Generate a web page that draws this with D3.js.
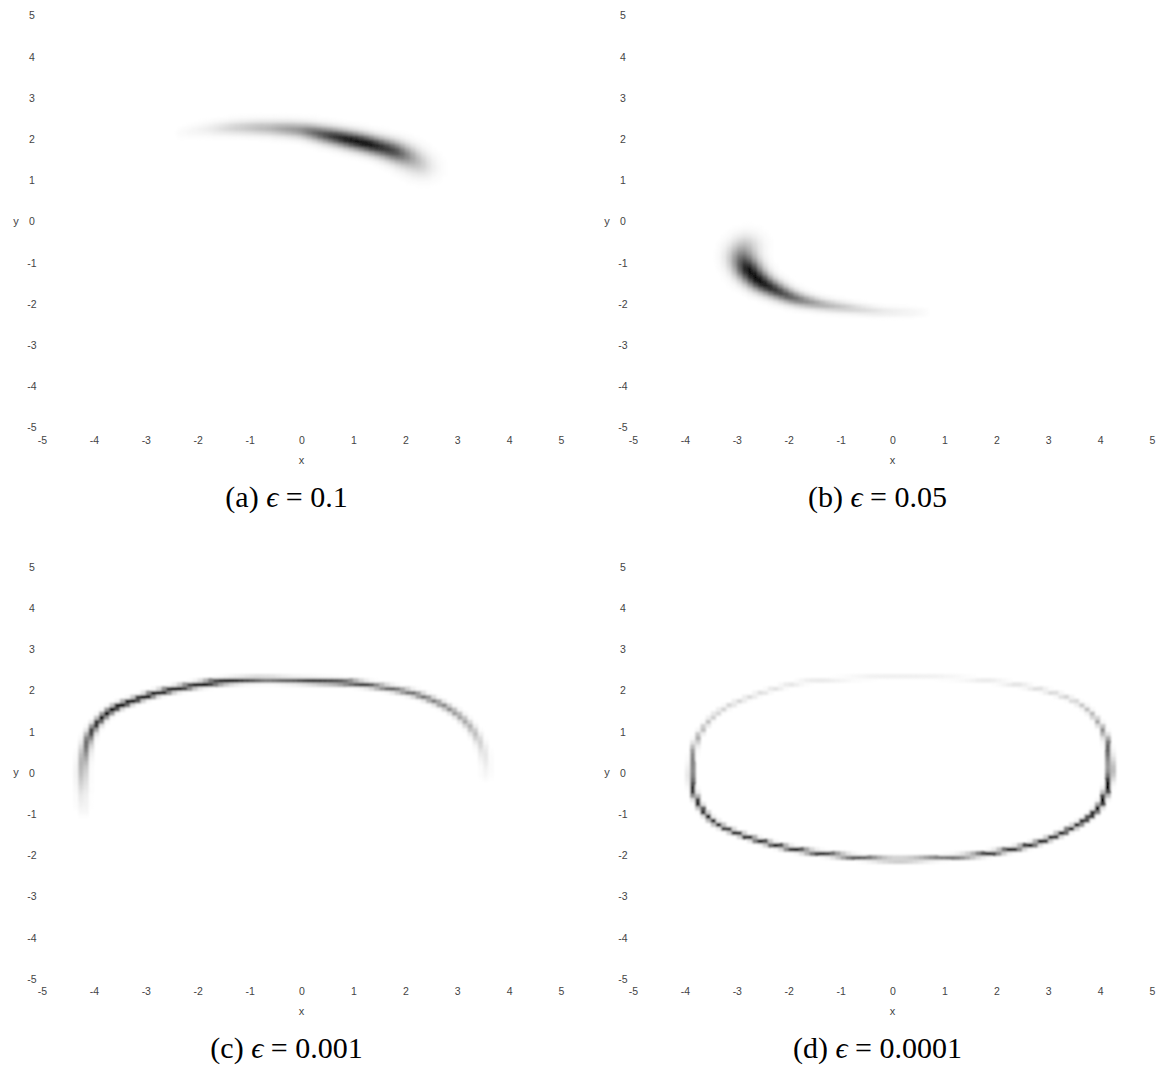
<!DOCTYPE html>
<html>
<head>
<meta charset="utf-8">
<script src="https://cdn.jsdelivr.net/npm/d3@7"></script>
<style>
  body { margin: 0; background: #fff; }
  svg { display: block; }
  .tick text { font-family: "Liberation Sans", Arial, sans-serif; font-size: 10.5px; fill: #444; }
  .axis-title { font-family: "Liberation Sans", Arial, sans-serif; font-size: 11px; fill: #444; }
  .caption { font-family: "Liberation Serif", "DejaVu Serif", serif; font-size: 30px; fill: #000; }
</style>
</head>
<body>
<svg id="chart" width="1162" height="1068"></svg>
<script>
// ---- tick values and panel labels
const tickValues = [-5, -4, -3, -2, -1, 0, 1, 2, 3, 4, 5];
const panelLetters = ['a', 'b', 'c', 'd'];
const epsilons = ['0.1', '0.05', '0.001', '0.0001'];

// ---- density ridges: [x, y, darkness, spread]
const ridgeA = [
  [-2.4, 2.15, 0.0, 0.09], [-1.8, 2.24, 0.07, 0.1], [-1.2, 2.28, 0.2, 0.11],
  [-0.6, 2.27, 0.3, 0.115], [0.0, 2.22, 0.45, 0.12], [0.5, 2.1, 0.75, 0.13],
  [1.0, 1.97, 1.0, 0.135], [1.4, 1.85, 0.95, 0.14], [1.8, 1.7, 0.72, 0.16],
  [2.1, 1.52, 0.35, 0.18], [2.35, 1.3, 0.08, 0.19]
];
const ridgeB = [
  [-2.8, -0.5, 0.06, 0.19], [-2.88, -0.82, 0.5, 0.19], [-2.78, -1.15, 0.95, 0.17],
  [-2.57, -1.43, 1.0, 0.15], [-2.28, -1.64, 0.85, 0.13], [-1.9, -1.85, 0.6, 0.11],
  [-1.4, -2.0, 0.35, 0.09], [-0.8, -2.1, 0.2, 0.08], [-0.2, -2.18, 0.1, 0.07],
  [0.6, -2.2, 0.02, 0.07]
];
const ridgeC = [
  [-4.2, -0.95, 0.03, 0.07], [-4.22, -0.5, 0.1, 0.07], [-4.2, 0.3, 0.4, 0.065],
  [-4.05, 1.0, 0.75, 0.055], [-3.7, 1.5, 1.15, 0.05], [-3.2, 1.78, 1.2, 0.045],
  [-2.7, 1.97, 1.15, 0.045], [-2.2, 2.1, 1.05, 0.045], [-1.7, 2.2, 1.2, 0.045],
  [-1.2, 2.25, 0.85, 0.045], [-0.7, 2.27, 0.6, 0.045], [-0.2, 2.25, 0.65, 0.045],
  [0.3, 2.23, 0.9, 0.045], [0.9, 2.2, 0.95, 0.045], [1.5, 2.1, 0.65, 0.045],
  [2.2, 1.92, 0.58, 0.05], [2.8, 1.6, 0.48, 0.05], [3.2, 1.2, 0.34, 0.055],
  [3.45, 0.7, 0.17, 0.06], [3.55, 0.2, 0.06, 0.065], [3.55, -0.1, 0.02, 0.07]
];
// closed loop: first and last anchor are the same point
const ridgeD = [
  [0.0, 2.34, 0.06, 0.035], [1.3, 2.3, 0.06, 0.035], [2.6, 2.1, 0.12, 0.035],
  [3.55, 1.72, 0.2, 0.035], [4.02, 1.13, 0.4, 0.035], [4.18, 0.4, 0.75, 0.035],
  [4.15, -0.3, 1.15, 0.035], [3.85, -1.0, 1.25, 0.035], [3.0, -1.6, 1.05, 0.035],
  [2.0, -1.92, 0.9, 0.035], [1.0, -2.05, 0.55, 0.035], [0.0, -2.1, 0.5, 0.035],
  [-1.0, -2.0, 0.8, 0.035], [-2.0, -1.82, 0.95, 0.035], [-2.9, -1.5, 1.0, 0.035],
  [-3.5, -1.12, 1.0, 0.035], [-3.82, -0.5, 0.9, 0.035], [-3.87, 0.2, 0.55, 0.035],
  [-3.72, 0.95, 0.3, 0.035], [-3.2, 1.6, 0.18, 0.035], [-2.0, 2.14, 0.1, 0.035],
  [-1.0, 2.28, 0.07, 0.035], [0.0, 2.34, 0.06, 0.035]
];
const ridges = [ridgeA, ridgeB, ridgeC, ridgeD];
const closedRidge = [false, false, false, true];
const blurs = ['1.8 1.5', '1.8 1.5', '1.3 1.1', '1.1 0.9'];

// ---- layout
const panelW = 519, panelH = 412;
const origins = [[42, 15.5], [633, 15.5], [42, 567], [633, 567]];
const gridN = 100;

const svg = d3.select('#chart');
const defs = svg.append('defs');
blurs.forEach((b, p) => {
    defs.append('filter')
        .attr('id', `smooth${p}`)
        .append('feGaussianBlur')
        .attr('stdDeviation', b);
});

const color = d3.scaleLinear().domain([0, 1]).range(['#ffffff', '#000000']).clamp(true);

// smooth the anchor polyline (Catmull-Rom), carrying darkness/spread along
function smoothRidge(ridge, closed) {
    const pts = closed ? ridge.slice(0, -1) : ridge;
    const n = pts.length;
    const at = i => closed ? pts[(i + n) % n] : pts[Math.max(0, Math.min(n - 1, i))];
    const out = [];
    const segs = closed ? n : n - 1;
    for (let k = 0; k < segs; k++) {
        const p0 = at(k - 1), p1 = at(k), p2 = at(k + 1), p3 = at(k + 2);
        for (let s = 0; s < 16; s++) {
            const t = s / 16, t2 = t * t, t3 = t2 * t;
            const cr = c => 0.5 * (2 * p1[c] + (-p0[c] + p2[c]) * t
                + (2 * p0[c] - 5 * p1[c] + 4 * p2[c] - p3[c]) * t2
                + (-p0[c] + 3 * p1[c] - 3 * p2[c] + p3[c]) * t3);
            out.push([cr(0), cr(1), p1[2] + t * (p2[2] - p1[2]), p1[3] + t * (p2[3] - p1[3])]);
        }
    }
    out.push(closed ? out[0] : pts[n - 1]);
    return out;
}

// value of a ridge at a point: strongest contribution of any segment
function ridgeValue(px, py, ridge) {
    let best = 0;
    for (let k = 0; k < ridge.length - 1; k++) {
        const [x0, y0, d0, s0] = ridge[k];
        const [x1, y1, d1, s1] = ridge[k + 1];
        const dx = x1 - x0, dy = y1 - y0, L2 = dx * dx + dy * dy;
        let t = L2 ? ((px - x0) * dx + (py - y0) * dy) / L2 : 0;
        t = Math.max(0, Math.min(1, t));
        const qx = x0 + t * dx, qy = y0 + t * dy;
        const dark = d0 + t * (d1 - d0), s = s0 + t * (s1 - s0);
        const dist2 = (px - qx) ** 2 + (py - qy) ** 2;
        const v = dark * Math.exp(-dist2 / (2 * s * s));
        if (v > best) best = v;
    }
    return Math.min(1, best);
}

ridges.forEach((ridge, p) => {
    const [ox, oy] = origins[p];
    const g = svg.append('g').attr('transform', `translate(${ox},${oy})`);

    const x = d3.scaleLinear().domain([-5, 5]).range([0, panelW]);
    const y = d3.scaleLinear().domain([-5, 5]).range([panelH, 0]);

    // ---- heatmap cells
    const path = smoothRidge(ridge, closedRidge[p]);
    const cells = [];
    for (let i = 0; i < gridN; i++) {
        for (let j = 0; j < gridN; j++) {
            const x0 = -5 + i / 10, y0 = -5 + j / 10;
            const v = ridgeValue(x0 + 0.05, y0 + 0.05, path);
            if (v > 0.004) cells.push({ x0, y0, v });
        }
    }
    g.append('g')
        .attr('filter', `url(#smooth${p})`)
        .selectAll('rect')
        .data(cells)
        .join('rect')
        .attr('x', d => x(d.x0))
        .attr('y', d => y(d.y0 + 0.1))
        .attr('width', x(0.1) - x(0) + 0.3)
        .attr('height', y(0) - y(0.1) + 0.3)
        .attr('fill', d => color(d.v));

    // ---- axes (labels only)
    g.append('g')
        .attr('class', 'x axis')
        .attr('transform', `translate(0,${panelH})`)
        .call(d3.axisBottom(x).tickValues(tickValues).tickFormat(d => String(d)).tickSize(0).tickPadding(9))
        .call(a => a.select('.domain').remove())
        .selectAll('text').attr('font-family', null).attr('font-size', null);

    g.append('g')
        .attr('class', 'y axis')
        .call(d3.axisLeft(y).tickValues(tickValues).tickFormat(d => String(d)).tickSize(0).tickPadding(0))
        .call(a => a.select('.domain').remove())
        .selectAll('text')
        .attr('font-family', null).attr('font-size', null)
        .attr('text-anchor', 'middle').attr('x', -10);

    g.append('text')
        .attr('class', 'axis-title')
        .attr('x', panelW / 2).attr('y', panelH + 36)
        .attr('text-anchor', 'middle')
        .text('x');

    g.append('text')
        .attr('class', 'axis-title')
        .attr('x', -26).attr('y', y(0) + 3)
        .attr('text-anchor', 'middle')
        .text('y');

    // ---- caption
    const cap = g.append('text')
        .attr('class', 'caption')
        .attr('x', panelW / 2 - 15).attr('y', 491)
        .attr('text-anchor', 'middle');
    cap.append('tspan').text(`(${panelLetters[p]}) `);
    cap.append('tspan').attr('font-style', 'italic').text('ϵ');
    cap.append('tspan').text(` = ${epsilons[p]}`);
});
</script>
</body>
</html>
